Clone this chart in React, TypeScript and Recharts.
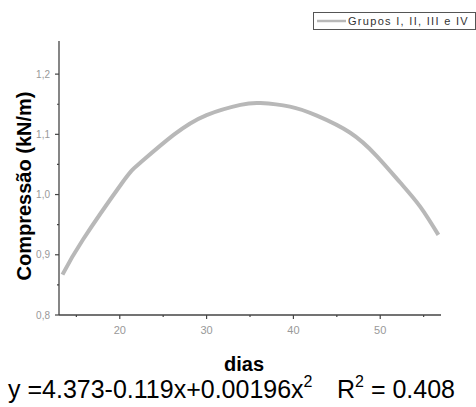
import React from 'react';
import { LineChart, Line, XAxis, YAxis, Legend, Label } from 'recharts';

const dias = [13.4, 15.75, 20.2, 22.3, 26.2, 30, 33.9, 36.2, 39.6, 42.7, 46.5, 49.6, 52.3, 54.6, 56.7];
const compressao = [0.867, 0.925, 1.018, 1.052, 1.099, 1.132, 1.149, 1.152, 1.146, 1.131, 1.103, 1.064, 1.02, 0.98, 0.933];
const xTicks = [15, 20, 25, 30, 35, 40, 45, 50, 55];
const yTicks = [0.8, 0.85, 0.9, 0.95, 1.0, 1.05, 1.1, 1.15, 1.2];
const seriesName = 'Grupos I, II, III e IV';
const yTitle = 'Compressão (kN/m)';
const xTitle = 'dias';
const equation = 'y =4.373-0.119x+0.00196x';
const r2 = ' = 0.408';

const data = dias.map((d, i) => ({ dia: d, valor: compressao[i] }));

const AXIS = '#444';
const LINE = '#b8b8b8';

const fmt = (v: number) => v.toFixed(1).replace('.', ',');

const YTick = (props: any) => {
  const { x, y, payload } = props;
  const v = payload.value;
  const major = Math.abs(v * 10 - Math.round(v * 10)) < 1e-6;
  return (
    <g>
      <line x1={x - (major ? 4 : 2)} x2={x} y1={y} y2={y} stroke={AXIS} strokeWidth={1.2} />
      {major && (
        <text x={x - 9} y={y} textAnchor="end" dominantBaseline="central" fontSize={10} fill="#999" fontFamily="Arial, 'Liberation Sans'">
          {fmt(v)}
        </text>
      )}
    </g>
  );
};

const XTick = (props: any) => {
  const { x, y, payload } = props;
  const v = payload.value;
  const major = v % 10 === 0;
  return (
    <g>
      <line x1={x} x2={x} y1={y} y2={y + (major ? 4 : 2)} stroke={AXIS} strokeWidth={1.2} />
      {major && (
        <text x={x} y={y + 15} textAnchor="middle" dominantBaseline="central" fontSize={11} fill="#999" fontFamily="Arial, 'Liberation Sans'">
          {v}
        </text>
      )}
    </g>
  );
};

const LegendBox = () => (
  <div
    style={{
      position: 'relative',
      border: '1px solid #555',
      boxSizing: 'border-box',
      height: 18,
      width: 163,
      background: '#fff',
      fontFamily: "Arial, 'Liberation Sans'",
    }}
  >
    <svg width={34} height={16} style={{ position: 'absolute', left: 0, top: 0 }}>
      <line x1={3} x2={32} y1={8} y2={8} stroke={LINE} strokeWidth={2.5} />
    </svg>
    <span
      style={{
        position: 'absolute',
        left: 34,
        top: 1,
        fontSize: 11,
        lineHeight: '14px',
        color: '#333',
        letterSpacing: 1.3,
        whiteSpace: 'nowrap',
      }}
    >
      {seriesName}
    </span>
  </div>
);

const YTitle = () => (
  <text
    x={24}
    y={186}
    transform="rotate(-90 24 186)"
    textAnchor="middle"
    dominantBaseline="central"
    fontSize={20}
    fontWeight="bold"
    fill="#000"
    fontFamily="Arial, 'Liberation Sans'"
  >
    {yTitle}
  </text>
);

const XTitles = () => (
  <g fontFamily="Arial, 'Liberation Sans'" fill="#000">
    <text x={244} y={371} textAnchor="middle" fontSize={20} fontWeight="bold">
      {xTitle}
    </text>
    <text x={8} y={398} fontSize={25}>
      {equation}
      <tspan dy={-11} fontSize={16}>2</tspan>
    </text>
    <text x={337} y={398} fontSize={25}>
      <tspan>R</tspan>
      <tspan dy={-11} fontSize={16}>2</tspan>
      <tspan dy={11}>{r2}</tspan>
    </text>
  </g>
);

export default function App() {
  return (
    <div style={{ position: 'absolute', left: 0, top: 0, background: '#fff' }}>
      <LineChart width={476} height={407} data={data} margin={{ top: 41, right: 35, bottom: 62, left: 29 }}>
        <XAxis
          type="number"
          dataKey="dia"
          domain={[13, 57]}
          ticks={xTicks}
          allowDataOverflow
          height={30}
          tickSize={0}
          tickMargin={0}
          tick={<XTick />}
          tickLine={false}
          axisLine={{ stroke: AXIS, strokeWidth: 1.3 }}
        >
          <Label content={<XTitles />} />
        </XAxis>
        <YAxis
          type="number"
          domain={[0.8, 1.255]}
          ticks={yTicks}
          allowDataOverflow
          width={30}
          tickSize={0}
          tickMargin={0}
          tick={<YTick />}
          tickLine={false}
          axisLine={{ stroke: AXIS, strokeWidth: 1.3 }}
        >
          <Label content={<YTitle />} />
        </YAxis>
        <Legend
          verticalAlign="middle"
          align="center"
          content={<LegendBox />}
          wrapperStyle={{ position: 'absolute', top: 12, left: 313, width: 163, height: 18 }}
        />
        <Line
          type="natural"
          dataKey="valor"
          name={seriesName}
          stroke={LINE}
          strokeWidth={4}
          dot={false}
          isAnimationActive={false}
        />
      </LineChart>
    </div>
  );
}
